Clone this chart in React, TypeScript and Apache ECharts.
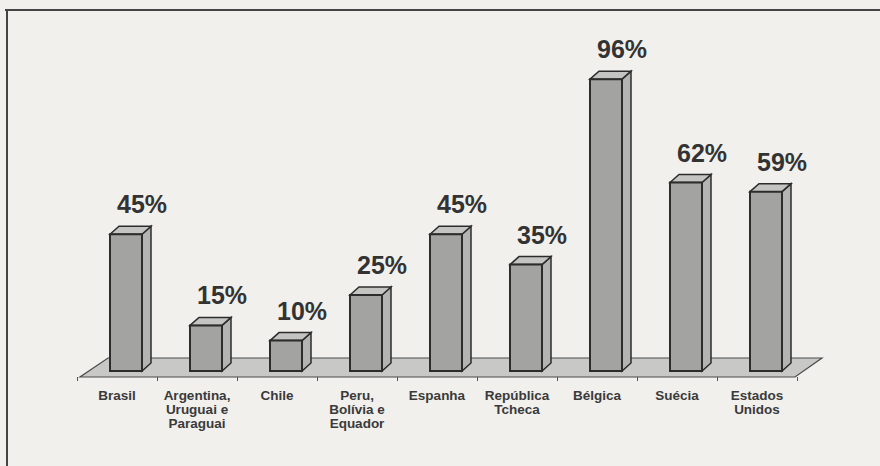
import React, { useEffect, useRef } from "react";
import * as echarts from "echarts";

const categories = [
  "Brasil",
  "Argentina,\nUruguai e\nParaguai",
  "Chile",
  "Peru,\nBolívia e\nEquador",
  "Espanha",
  "República\nTcheca",
  "Bélgica",
  "Suécia",
  "Estados\nUnidos",
];
const values = [45, 15, 10, 25, 45, 35, 96, 62, 59];
const valueLabels = ["45%", "15%", "10%", "25%", "45%", "35%", "96%", "62%", "59%"];

export default function App() {
  const ref = useRef<HTMLDivElement>(null);
  useEffect(() => {
    if (!ref.current) return;
    const chart = echarts.init(ref.current, null, { renderer: "svg" });
    const option: any = {
      animation: false,
      backgroundColor: "#f1f0ed",
      grid: { left: 77, right: 83, top: 73, bottom: 89 },
      xAxis: {
        type: "category",
        data: categories,
        axisLine: { show: false },
        axisTick: { show: true, length: 4, lineStyle: { color: "#555" } },
        axisLabel: {
          interval: 0,
          fontFamily: "Arial, 'Liberation Sans', sans-serif",
          fontSize: 13.5,
          fontWeight: "bold",
          color: "#3a3a3a",
          lineHeight: 14,
          margin: 11,
        },
      },
      yAxis: { type: "value", min: 0, max: 100, show: false, splitLine: { show: false } },
      graphic: [
        { type: "line", shape: { x1: 5, y1: 10, x2: 880, y2: 10 }, style: { stroke: "#444", lineWidth: 2 } },
        { type: "line", shape: { x1: 7, y1: 10, x2: 7, y2: 466 }, style: { stroke: "#444", lineWidth: 2 } },
      ],
      series: [
        {
          type: "custom",
          data: [[0]],
          z: 1,
          renderItem: (params: any, api: any) => {
            const cs = params.coordSys;
            const x0 = cs.x;
            const x1 = cs.x + cs.width;
            const yb = cs.y + cs.height;
            return {
              type: "polygon",
              shape: {
                points: [
                  [x0 + 3, yb],
                  [x1 - 2, yb],
                  [x1 + 25, yb - 19],
                  [x0 + 31, yb - 19],
                ],
              },
              style: { fill: "#c8c8c6", stroke: "#4a4a4a", lineWidth: 1.2 },
            };
          },
        },
        {
          type: "custom",
          z: 3,
          data: values.map((v, i) => [i, v]),
          renderItem: (params: any, api: any) => {
            const idx = api.value(0);
            const val = api.value(1);
            const top = api.coord([idx, val]);
            const base = api.coord([idx, 0]);
            const band = api.size([1, 0])[0];
            const w = band * 0.4;
            const fx = top[0] + 9 - w / 2;
            const by = base[1] - 6;
            const ty = top[1] - 6;
            const dx = 9;
            const dy = 8;
            const stroke = "#2c2c2c";
            return {
              type: "group",
              children: [
                {
                  type: "polygon",
                  shape: { points: [[fx + w, ty], [fx + w + dx, ty - dy], [fx + w + dx, by - dy], [fx + w, by]] },
                  style: { fill: "#b4b4b2", stroke, lineWidth: 1.5 },
                },
                {
                  type: "polygon",
                  shape: { points: [[fx, ty], [fx + dx, ty - dy], [fx + w + dx, ty - dy], [fx + w, ty]] },
                  style: { fill: "#c4c4c2", stroke, lineWidth: 1.5 },
                },
                {
                  type: "rect",
                  shape: { x: fx, y: ty, width: w, height: by - ty },
                  style: { fill: "#a3a3a1", stroke, lineWidth: 2 },
                },
                {
                  type: "text",
                  x: top[0] + 25,
                  y: ty - 30,
                  style: {
                    text: valueLabels[idx],
                    fontFamily: "Arial, 'Liberation Sans', sans-serif",
                    fontSize: 25,
                    fontWeight: "bold",
                    fill: "#333",
                    align: "center",
                    verticalAlign: "middle",
                  },
                },
              ],
            };
          },
        },
      ],
    };
    chart.setOption(option);
    return () => chart.dispose();
  }, []);
  return (
    <div
      ref={ref}
      style={{ position: "fixed", left: 0, top: 0, width: 880, height: 466 }}
    />
  );
}
